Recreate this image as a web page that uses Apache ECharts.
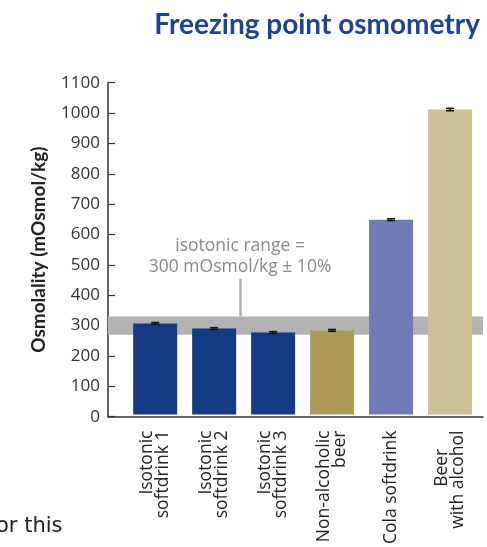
<!DOCTYPE html>
<html><head><meta charset="utf-8">
<script src="https://cdn.jsdelivr.net/npm/echarts@6/dist/echarts.min.js"></script>
<style>html,body{margin:0;padding:0;background:#fff}#c{width:487px;height:547px}</style>
</head><body><div id="c"></div>
<script>
var categories = ['Isotonic\nsoftdrink 1','Isotonic\nsoftdrink 2','Isotonic\nsoftdrink 3','Non-alcoholic\nbeer','Cola softdrink','Beer\nwith alcohol'];
var values = [302, 285, 272, 279, 646, 1011];
var errors = [3, 3, 3, 3, 3, 4];
var barColors = ['#143a84','#143a84','#143a84','#ad9a58','#6f7bb4','#cec096'];
var isotonicRange = [270, 330];
var yTicks = {min: 0, max: 1100, interval: 100};
var annotation = {x: 1.44, y0: 330, y1: 454, text: 'isotonic range =\n300 mOsmol/kg ± 10%'};

(function () {
var FONT = 'Open Sans';
var chart = echarts.init(document.getElementById('c'));
var gTop = 82.7, gBottom = 547 - 416.7;
var xFont = 17.5;
chart.setOption({
  animation: false,
  textStyle: {fontFamily: FONT},
  title: {text: 'Freezing point osmometry', right: 2, top: 6,
    textStyle: {fontFamily: 'Lato', fontWeight: 'bold', fontSize: 28, color: '#1d4394'}},
  graphic: [{type: 'text', left: -4, top: 516, style: {text: 'or this', fontFamily: 'DejaVu Sans', fontSize: 21, fill: '#222'}}],
  grid: [
    {left: 108, right: 4, top: gTop, bottom: gBottom},
    {left: 125.7, right: 7.5, top: gTop, bottom: gBottom}
  ],
  xAxis: [
    {gridIndex: 0, type: 'value', min: -0.8, max: 5.56, axisLabel: {show: false}, axisTick: {show: false},
      splitLine: {show: false}, axisLine: {show: true, onZero: false, lineStyle: {color: '#333', width: 1.5}}},
    {gridIndex: 1, type: 'category', data: categories, axisLine: {show: false}, axisTick: {show: false},
      axisLabel: {rotate: 90, interval: 0, margin: 16, fontSize: xFont, lineHeight: 16, color: '#222', align: 'right',
        formatter: function (v) {
          var parts = v.split('\n');
          if (parts[0] === 'Beer') return parts[0] + '\u00a0\u00a0\u00a0\u00a0\n' + parts[1];
          return v;
        }}}
  ],
  yAxis: [
    {gridIndex: 0, type: 'value', min: yTicks.min, max: yTicks.max, interval: yTicks.interval,
      name: 'Osmolality (mOsmol/kg)', nameLocation: 'middle', nameGap: 60,
      nameTextStyle: {fontFamily: 'Lato', fontWeight: 'bold', fontSize: 19, color: '#222'},
      axisLine: {show: true, onZero: false, lineStyle: {color: '#333', width: 1.5}},
      axisTick: {show: true, inside: true, length: 7, lineStyle: {color: '#333', width: 1.2}},
      axisLabel: {fontSize: 17, color: '#333', margin: 8, formatter: function (v) { return String(v); }},
      splitLine: {show: false}},
    {gridIndex: 1, type: 'value', min: yTicks.min, max: yTicks.max, interval: yTicks.interval, show: false}
  ],
  series: [
    {type: 'line', xAxisIndex: 0, yAxisIndex: 0, data: [], z: 1,
      markArea: {silent: true, itemStyle: {color: '#b2b2b2'},
        data: [[{yAxis: isotonicRange[0]}, {yAxis: isotonicRange[1]}]]},
      markLine: {silent: true, symbol: 'none', lineStyle: {color: '#b2b2b2', width: 2.5, type: 'solid'},
        label: {show: true, position: 'end', formatter: annotation.text, fontSize: 17.5, lineHeight: 21.5,
          color: '#8a8a8a', distance: 1},
        data: [[{coord: [annotation.x, annotation.y0]}, {coord: [annotation.x, annotation.y1]}]]}
    },
    {type: 'bar', xAxisIndex: 1, yAxisIndex: 1, barWidth: 44, z: 3,
      data: values.map(function (v, i) { return {value: v, itemStyle: {color: barColors[i]}}; })},
    {type: 'custom', xAxisIndex: 1, yAxisIndex: 1, z: 5,
      data: values.map(function (v, i) { return [i, v - errors[i], v + errors[i]]; }),
      renderItem: function (params, api) {
        var lo = api.coord([api.value(0), api.value(1)]);
        var hi = api.coord([api.value(0), api.value(2)]);
        var w = 4;
        var st = {stroke: '#111', lineWidth: 1.5};
        return {type: 'group', children: [
          {type: 'line', shape: {x1: lo[0], y1: lo[1], x2: hi[0], y2: hi[1]}, style: st},
          {type: 'line', shape: {x1: lo[0]-w, y1: lo[1], x2: lo[0]+w, y2: lo[1]}, style: st},
          {type: 'line', shape: {x1: hi[0]-w, y1: hi[1], x2: hi[0]+w, y2: hi[1]}, style: st}
        ]};
      }}
  ]
});
})();
</script></body></html>
